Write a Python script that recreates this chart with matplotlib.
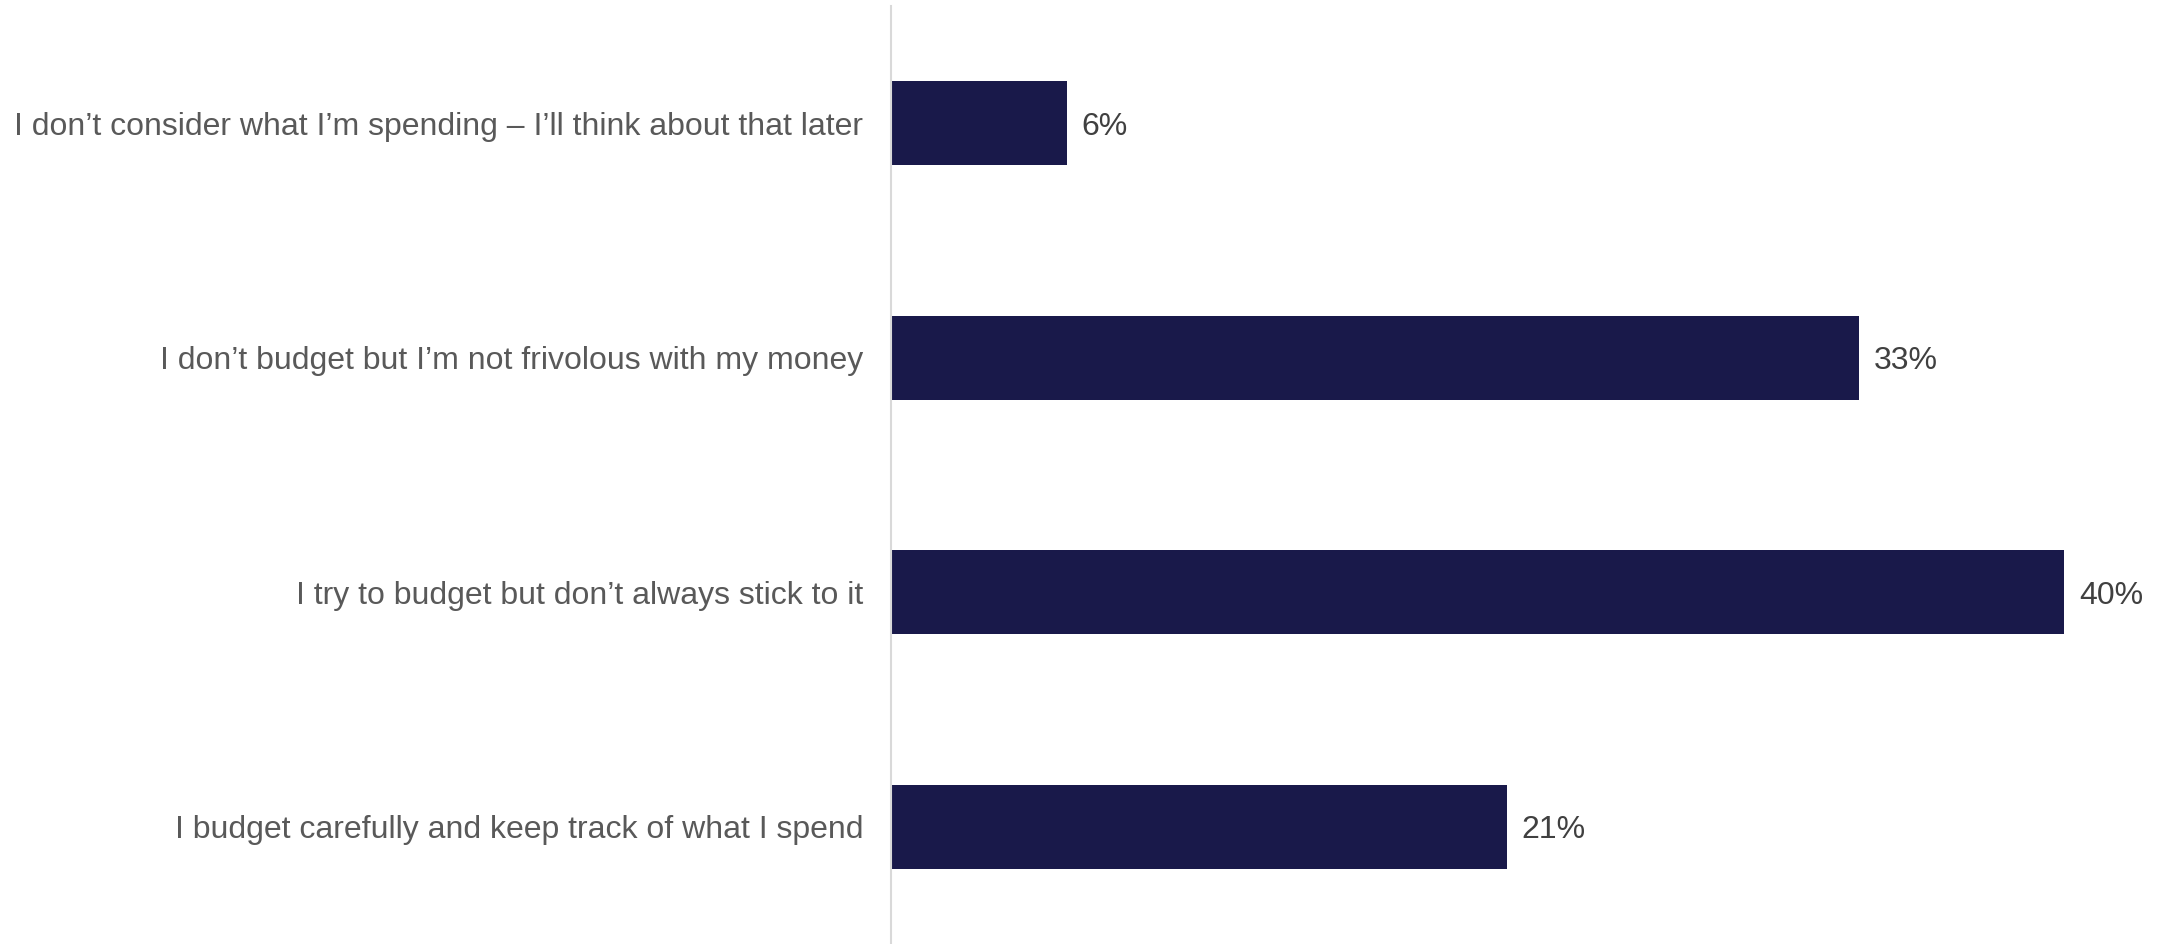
import matplotlib
matplotlib.use("Agg")
import matplotlib.pyplot as plt

categories = [
    "I don\u2019t consider what I\u2019m spending \u2013 I\u2019ll think about that later",
    "I don\u2019t budget but I\u2019m not frivolous with my money",
    "I try to budget but don\u2019t always stick to it",
    "I budget carefully and keep track of what I spend",
]
values = [6, 33, 40, 21]
value_labels = ["6%", "33%", "40%", "21%"]

plt.rcParams['font.family'] = ['Liberation Sans', 'DejaVu Sans']

fig = plt.figure(figsize=(21.68, 9.44), dpi=100)
ax = fig.add_axes([891/2168, 0.0, 1 - 891/2168, 1 - 6/944])

ypos = list(range(len(categories)))
ax.barh(ypos, values, height=0.36, color="#19194A")
ax.set_ylim(len(categories) - 0.5, -0.5)
ax.set_xlim(0, 1277/29.33)

for y, v, lab in zip(ypos, values, value_labels):
    ax.text(v + 0.5, y, lab, va="center_baseline", ha="left", fontsize=23, color="#404040")

ax.set_yticks(ypos)
ax.set_yticklabels(categories, fontsize=23, color="#595959", va="center_baseline")
ax.tick_params(axis="y", length=0, pad=20)
ax.set_xticks([])
for s in ["top", "right", "bottom"]:
    ax.spines[s].set_visible(False)
ax.spines["left"].set_color("#D9D9D9")
ax.spines["left"].set_linewidth(1.5)

fig.savefig("out.png", dpi=100)
